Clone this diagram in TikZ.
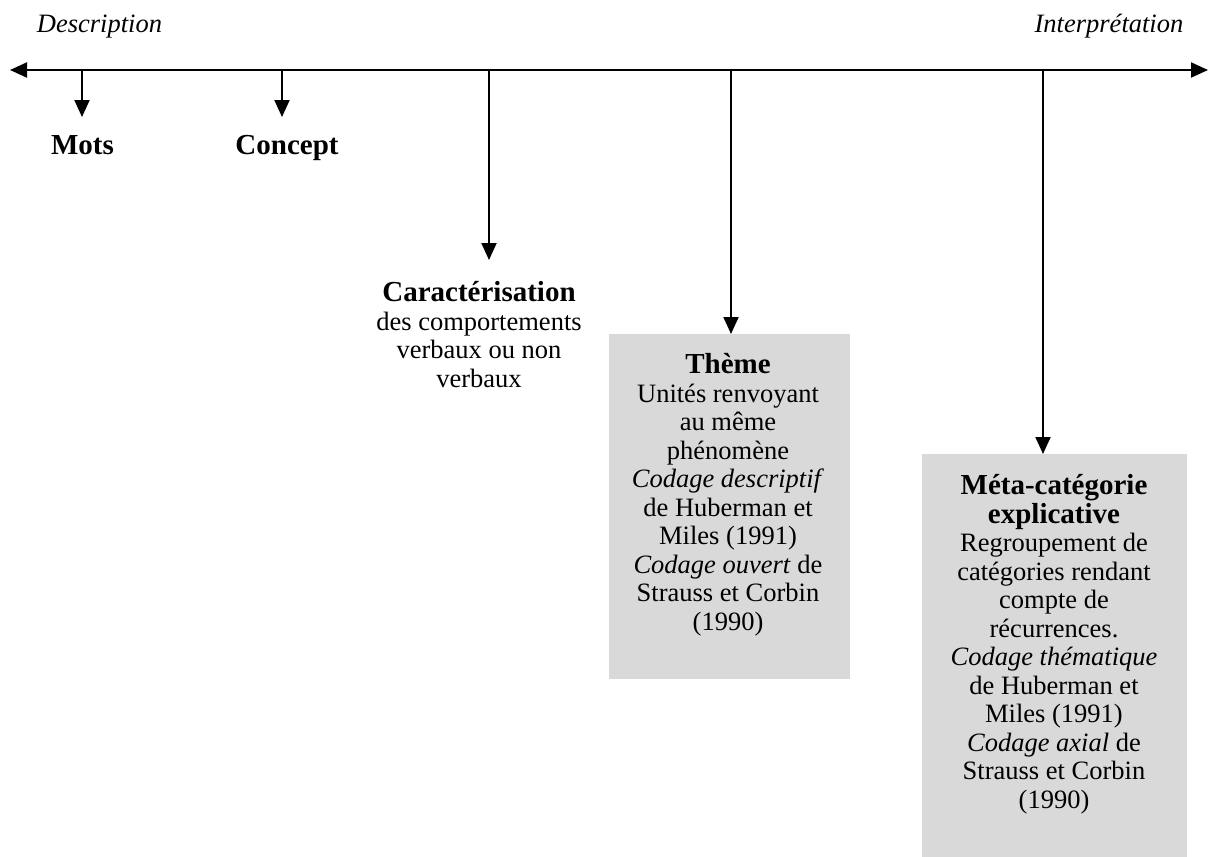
\documentclass[tikz,border=0pt]{standalone}
\usepackage{fontspec}
\setmainfont{Liberation Serif}
\usetikzlibrary{arrows.meta}
\definecolor{boxgray}{HTML}{D9D9D9}
\begin{document}
\begin{tikzpicture}[x=1pt,y=1pt,
  lbl/.style={inner sep=0, align=center, font=\fontsize{26.5}{28.5}\selectfont},
  ttl/.style={inner sep=0, font=\fontsize{29}{30}\selectfont\bfseries},
  graybox/.style={fill=boxgray, draw=none, inner sep=0, anchor=north west},
  axisline/.style={line width=2pt, {Triangle[length=17pt,width=15pt]}-{Triangle[length=17pt,width=15pt]}},
  branch/.style={line width=2pt, -{Triangle[length=17pt,width=15pt]}}]
\useasboundingbox (0,0) rectangle (1208,-857);
% ends of the axis
\coordinate (L) at (10,-70);
\coordinate (R) at (1208,-70);
\draw[axisline] (L) -- (R);
% labels of the axis
\node[lbl, anchor=base] (desc) at (99.5,-32) {\textit{Description}};
\node[lbl, anchor=base] (interp) at (1109,-32) {\textit{Interprétation}};
% branch points
\coordinate (b1) at (82,-70);
\coordinate (b2) at (282,-70);
\coordinate (b3) at (489,-70);
\coordinate (b4) at (731,-70);
\coordinate (b5) at (1043,-70);
% arrow ends
\coordinate (e1) at (82,-117);
\coordinate (e2) at (282,-117);
\coordinate (e3) at (489,-260);
% boxes
\node[graybox, minimum width=241pt, minimum height=345pt] (thbox) at (609,-334) {};
\node[graybox, minimum width=265pt, minimum height=403pt] (mtbox) at (922,-454) {};
% texts (base anchor = baseline of the last line)
\node[ttl, anchor=base] (mots) at (82.5,-154) {Mots};
\node[ttl, anchor=base] (concept) at (287,-154) {Concept};
\node[lbl, anchor=base] (carac) at (479,-387) {{\fontsize{29}{30}\selectfont\bfseries Caractérisation}\\
  des comportements\\ verbaux ou non\\ verbaux};
\node[lbl, anchor=base] (theme) at (728,-630) {{\fontsize{29}{30}\selectfont\bfseries Thème}\\
  Unités renvoyant\\ au même\\ phénomène\\ \textit{Codage descriptif}\\ de Huberman et\\ Miles (1991)\\
  \textit{Codage ouvert} de\\ Strauss et Corbin\\ (1990)};
\node[lbl, anchor=base] (meta) at (1054,-808) {{\fontsize{29}{30}\selectfont\bfseries Méta-catégorie}\\
  {\fontsize{29}{30}\selectfont\bfseries explicative}\\
  Regroupement de\\ catégories rendant\\ compte de\\ récurrences.\\ \textit{Codage thématique}\\
  de Huberman et\\ Miles (1991)\\ \textit{Codage axial} de\\ Strauss et Corbin\\ (1990)};
% connectors
\draw[branch] (b1) -- (e1);
\draw[branch] (b2) -- (e2);
\draw[branch] (b3) -- (e3);
\draw[branch] (b4) -- (thbox.north -| b4);
\draw[branch] (b5) -- (mtbox.north -| b5);
\end{tikzpicture}
\end{document}
